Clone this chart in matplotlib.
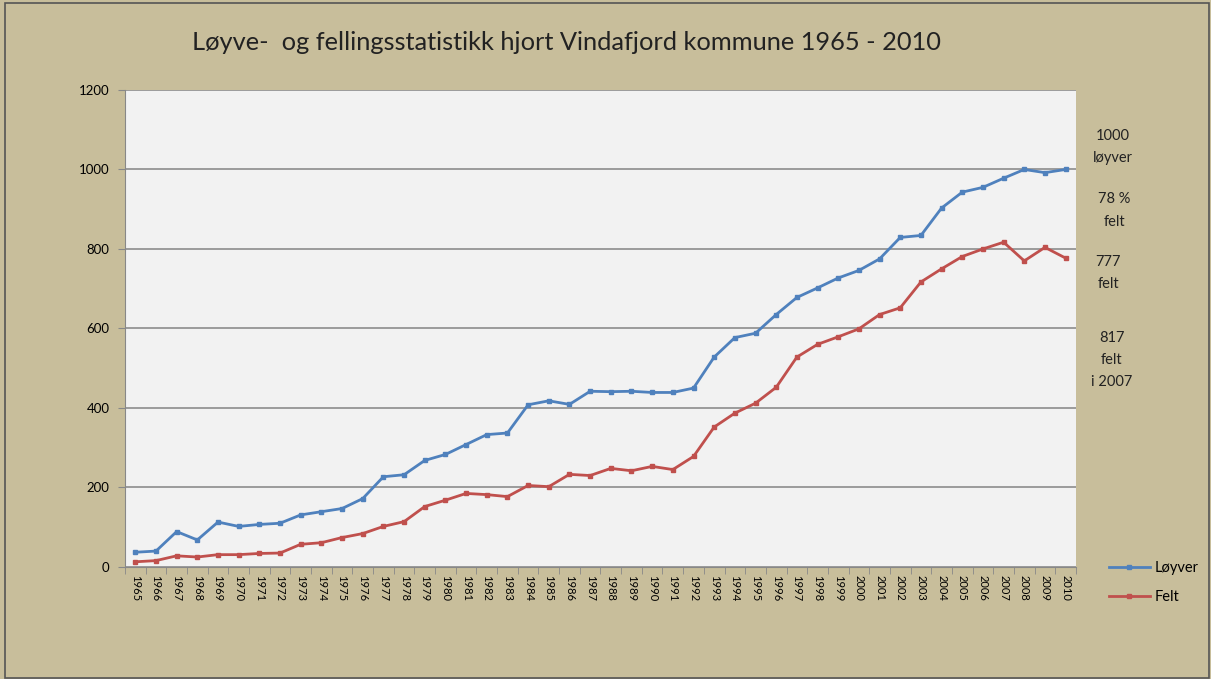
import matplotlib.pyplot as plt
import numpy as np
from matplotlib.lines import Line2D
from matplotlib.patches import Rectangle

plt.rcParams['font.family'] = ['Lato', 'DejaVu Sans']

years = list(range(1965, 2011))
loyver = [37, 40, 89, 68, 113, 102, 107, 110, 131, 139, 147, 172, 227, 232, 268, 283,
          308, 333, 337, 408, 418, 409, 442, 441, 442, 439, 439, 450, 528, 577, 588, 635,
          678, 702, 727, 746, 775, 829, 834, 903, 943, 955, 978, 1000, 992, 1000]
felt = [13, 16, 28, 25, 31, 31, 34, 35, 57, 61, 74, 84, 102, 114, 152, 168,
        185, 182, 177, 205, 202, 233, 230, 248, 242, 253, 245, 278, 352, 387, 412, 452,
        528, 560, 579, 599, 635, 652, 717, 750, 781, 800, 817, 770, 804, 777]
notes = ['1000\nløyver', '78 %\nfelt', '777\nfelt', '817\nfelt\ni 2007']

bg = '#C8BE9B'
fig = plt.figure(figsize=(12.11, 6.79), dpi=100, facecolor=bg)
fig.patches.append(Rectangle((0.004, 0.002), 0.994, 0.994, transform=fig.transFigure,
                             fill=False, edgecolor='#555555', linewidth=1.2))
ax = fig.add_axes([0.1032, 0.165, 0.7853, 0.7025])
ax.set_facecolor('#F2F2F2')

x = np.arange(len(years))
ax.plot(x, loyver, color='#4F81BD', lw=2, marker='s', ms=3.5, label='Løyver')
ax.plot(x, felt, color='#C0504D', lw=2, marker='s', ms=3.5, label='Felt')

ax.set_xlim(-0.5, len(years) - 0.5)
ax.set_ylim(0, 1200)
ax.set_yticks(range(0, 1201, 200))
ax.tick_params(axis='y', labelsize=9.5, length=5, color='#888888', pad=6)
ax.set_xticks(x)
ax.set_xticklabels(years, rotation=270, fontsize=8)
ax.set_xticks(np.arange(-0.5, len(years), 1), minor=True)
ax.tick_params(axis='x', which='major', length=0, pad=6)
ax.tick_params(axis='x', which='minor', length=5, color='#888888')
ax.grid(axis='y', color='#8C8C8C', lw=1.2)
ax.set_axisbelow(True)
for s in ['top', 'right']:
    ax.spines[s].set_visible(False)
for s in ['left', 'bottom']:
    ax.spines[s].set_color('#888888')

fig.text(0.468, 0.937, 'Løyve-  og fellingsstatistikk hjort Vindafjord kommune 1965 - 2010',
         ha='center', va='center', fontsize=18.3, color='#222222')

note_y = [0.784, 0.690, 0.598, 0.470]
note_x = [0.919, 0.920, 0.915, 0.918]
for t, nx, ny in zip(notes, note_x, note_y):
    fig.text(nx, ny, t, ha='center', va='center', fontsize=10.5, linespacing=1.75,
             color='#222222')

handles = [Line2D([], [], color='#4F81BD', lw=2, marker='s', ms=3.5),
           Line2D([], [], color='#C0504D', lw=2, marker='s', ms=3.5)]
fig.legend(handles, ['Løyver', 'Felt'], loc='center left', bbox_to_anchor=(0.905, 0.142),
           frameon=False, fontsize=10.5, handlelength=2.8, handletextpad=0.3,
           labelspacing=1.0)

fig.savefig('out.png', dpi=100, facecolor=bg)
